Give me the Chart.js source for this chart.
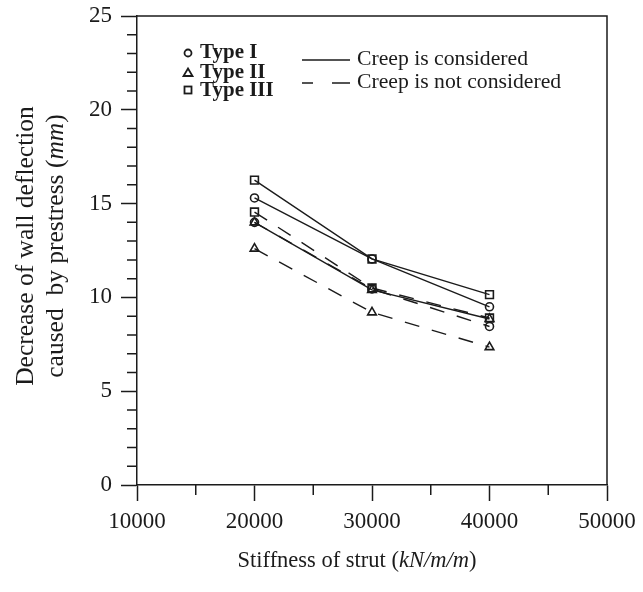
<!DOCTYPE html>
<html>
<head>
<meta charset="utf-8">
<script src="https://cdn.jsdelivr.net/npm/chart.js@4"></script>
<style>
  body { margin: 0; background: #fff; }
  #chart { display: block; }
</style>
</head>
<body>
<canvas id="chart" width="643" height="592"></canvas>
<script>
/////////////////////////////////// DATA ///////////////////////////////////
const strutStiffness = [20000, 30000, 40000];

const typeI_creep = [15.3, 12.05, 9.5];
const typeII_creep = [14.0, 10.4, 8.85];
const typeIII_creep = [16.25, 12.05, 10.15];

const typeI_noCreep = [14.0, 10.45, 8.45];
const typeII_noCreep = [12.6, 9.2, 7.35];
const typeIII_noCreep = [14.55, 10.5, 8.9];

const xTicks = [10000, 20000, 30000, 40000, 50000];
const yTicks = [0, 5, 10, 15, 20, 25];

const FONT = "'Liberation Serif', 'DejaVu Serif', serif";
const INK = '#1b1b1b';

/////////////////////////////////// HELPERS ///////////////////////////////////
function toPoints(values) {
    return values.map((v, i) => ({ x: strutStiffness[i], y: v }));
}

function series(label, values, style, dashed) {
    return {
        label: label,
        data: toPoints(values),
        borderColor: INK,
        borderWidth: 1.4,
        borderDash: dashed ? [15, 13] : [],
        pointStyle: style,
        pointRadius: style === 'rect' ? 5.5 : (style === 'triangle' ? 5 : 4),
        pointBorderWidth: 1.6,
        pointBorderColor: INK,
        pointBackgroundColor: 'rgba(0,0,0,0)',
        fill: false,
        tension: 0
    };
}

// text made of several pieces (some italic), centered on cx, cy
function drawRich(ctx, parts, cx, cy, rot) {
    ctx.save();
    ctx.translate(cx, cy);
    ctx.rotate(rot || 0);
    ctx.textBaseline = 'middle';
    ctx.textAlign = 'left';
    ctx.fillStyle = INK;
    let total = 0;
    parts.forEach(p => { ctx.font = p.font; total += ctx.measureText(p.text).width; });
    let x = -total / 2;
    parts.forEach(p => {
        ctx.font = p.font;
        ctx.fillText(p.text, x, 0);
        x += ctx.measureText(p.text).width;
    });
    ctx.restore();
}

/////////////////////////////////// PLUGIN: box, minor ticks, titles, legend ///////////////////////////////////
const decorations = {
    id: 'decorations',
    afterDraw(chart) {
        const { ctx, chartArea, scales } = chart;
        const xs = scales.x, ys = scales.y;
        ctx.save();
        ctx.strokeStyle = INK;
        ctx.lineWidth = 1.5;

        // top and right edges of the frame
        ctx.beginPath();
        ctx.moveTo(chartArea.left, chartArea.top);
        ctx.lineTo(chartArea.right, chartArea.top);
        ctx.lineTo(chartArea.right, chartArea.bottom);
        ctx.stroke();

        // minor ticks
        ctx.beginPath();
        for (let v = 1; v < 25; v++) {
            if (v % 5 === 0) continue;
            const py = ys.getPixelForValue(v);
            ctx.moveTo(chartArea.left - 10, py);
            ctx.lineTo(chartArea.left, py);
        }
        for (let v = 15000; v < 50000; v += 10000) {
            const px = xs.getPixelForValue(v);
            ctx.moveTo(px, chartArea.bottom);
            ctx.lineTo(px, chartArea.bottom + 10);
        }
        ctx.stroke();

        // axis titles
        const reg = '22.5px ' + FONT, ita = 'italic 22.5px ' + FONT;
        drawRich(ctx, [
            { text: 'Stiffness of strut (', font: reg },
            { text: 'kN/m/m', font: ita },
            { text: ')', font: reg }
        ], 357, 561, 0);
        const yReg = '25.5px ' + FONT, yIta = 'italic 25.5px ' + FONT;
        drawRich(ctx, [{ text: 'Decrease of wall deflection', font: yReg }], 26, 246, -Math.PI / 2);
        drawRich(ctx, [
            { text: 'caused  by prestress (', font: yReg },
            { text: 'mm', font: yIta },
            { text: ')', font: yReg }
        ], 56, 246, -Math.PI / 2);

        // legend: marker types
        ctx.lineWidth = 1.8;
        ctx.fillStyle = INK;
        ctx.beginPath();
        ctx.arc(188, 53, 3.5, 0, Math.PI * 2);
        ctx.stroke();
        ctx.beginPath();
        ctx.moveTo(188, 68.5);
        ctx.lineTo(192.5, 76);
        ctx.lineTo(183.5, 76);
        ctx.closePath();
        ctx.stroke();
        ctx.strokeRect(184.5, 86.5, 7, 7);

        ctx.font = 'bold 21px ' + FONT;
        ctx.textBaseline = 'middle';
        ctx.textAlign = 'left';
        ctx.fillText('Type I', 200, 53);
        ctx.fillText('Type II', 200, 73);
        ctx.fillText('Type III', 200, 91);

        // legend: line styles
        ctx.lineWidth = 1.4;
        ctx.beginPath();
        ctx.moveTo(302, 60);
        ctx.lineTo(350, 60);
        ctx.moveTo(302, 83);
        ctx.lineTo(313, 83);
        ctx.moveTo(332, 83);
        ctx.lineTo(350, 83);
        ctx.stroke();
        ctx.font = '21.7px ' + FONT;
        ctx.fillText('Creep is considered', 357, 59);
        ctx.fillText('Creep is not considered', 357, 82);

        ctx.restore();
    }
};

/////////////////////////////////// CHART ///////////////////////////////////
const ctx = document.getElementById('chart');

const deflectionChart = new Chart(ctx, {
    type: 'line',
    data: {
        datasets: [
            series('Type I, creep', typeI_creep, 'circle', false),
            series('Type II, creep', typeII_creep, 'triangle', false),
            series('Type III, creep', typeIII_creep, 'rect', false),
            series('Type I, no creep', typeI_noCreep, 'circle', true),
            series('Type II, no creep', typeII_noCreep, 'triangle', true),
            series('Type III, no creep', typeIII_noCreep, 'rect', true)
        ]
    },
    options: {
        responsive: false,
        animation: false,
        layout: { padding: { top: 16, right: 36, left: 0, bottom: 0 } },
        plugins: {
            legend: { display: false },
            tooltip: { enabled: false }
        },
        scales: {
            x: {
                type: 'linear',
                min: 10000,
                max: 50000,
                afterBuildTicks: (scale) => { scale.ticks = xTicks.map(v => ({ value: v })); },
                afterFit: (scale) => {
                    scale.height = 107;
                    scale.paddingLeft = 0;
                    scale.paddingRight = 0;
                },
                ticks: {
                    color: INK,
                    font: { family: FONT, size: 23 },
                    padding: 7,
                    maxRotation: 0,
                    callback: (v) => String(v)
                },
                grid: {
                    drawOnChartArea: false,
                    tickLength: 16,
                    tickWidth: 1.5,
                    tickColor: INK
                },
                border: { color: INK, width: 1.5 }
            },
            y: {
                type: 'linear',
                min: 0,
                max: 25,
                afterBuildTicks: (scale) => { scale.ticks = yTicks.map(v => ({ value: v })); },
                afterFit: (scale) => {
                    scale.width = 137;
                    scale.paddingTop = 0;
                    scale.paddingBottom = 0;
                },
                ticks: {
                    color: INK,
                    font: { family: FONT, size: 23 },
                    padding: 9
                },
                grid: {
                    drawOnChartArea: false,
                    tickLength: 16,
                    tickWidth: 1.5,
                    tickColor: INK
                },
                border: { color: INK, width: 1.5 }
            }
        }
    },
    plugins: [decorations]
});
</script>
</body>
</html>
